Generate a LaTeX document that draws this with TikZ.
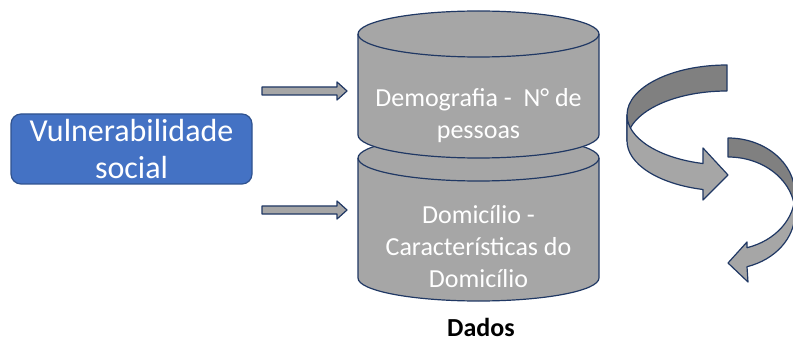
\documentclass[tikz,border=0pt]{standalone}
\usepackage{fontspec}
\setmainfont{Carlito}
\definecolor{boxblue}{HTML}{4472C4}
\definecolor{boxedge}{HTML}{2F528F}
\definecolor{navy}{HTML}{203864}
\definecolor{canfill}{HTML}{A6A6A6}
\definecolor{ribbondark}{HTML}{808080}
\definecolor{ribbonlight}{HTML}{A6A6A6}
\begin{document}
\begin{tikzpicture}[x=1pt,y=-1pt,
    outline/.style={draw=navy,line width=1.2pt,line join=round},
    cantext/.style={text=white,align=center,font=\fontsize{26}{32}\selectfont}]
      \useasboundingbox (0,0) rectangle (793,342);

      \node[draw=boxedge,fill=boxblue,line width=1.2pt,rounded corners=10pt,
            minimum width=241pt,minimum height=70pt,text=white,align=center,
            font=\fontsize{32}{37}\selectfont] (vuln) at (131.5,149) {Vulnerabilidade\\social};

      \filldraw[outline,fill=ribbonlight] (262,87) -- (337,87) -- (337,82) -- (347,91)
                                          -- (337,100) -- (337,95) -- (262,95) -- cycle;
      \filldraw[outline,fill=ribbonlight] (262,206) -- (337,206) -- (337,201) -- (347,210)
                                          -- (337,219) -- (337,214) -- (262,214) -- cycle;

      % lower can first, the upper one sits on it
      \filldraw[outline,fill=canfill] (358,158) -- (358,278)
            arc[start angle=180,end angle=0,x radius=120.5,y radius=23] -- (599,158)
            arc[start angle=0,end angle=-180,x radius=120.5,y radius=23] -- cycle;
      \draw[outline] (358,158) arc[start angle=180,end angle=0,x radius=120.5,y radius=23];
      \filldraw[outline,fill=canfill] (358,34) -- (358,135)
            arc[start angle=180,end angle=0,x radius=120.5,y radius=23] -- (599,34)
            arc[start angle=0,end angle=-180,x radius=120.5,y radius=23] -- cycle;
      \draw[outline] (358,34) arc[start angle=180,end angle=0,x radius=120.5,y radius=23];

      \node[cantext] (demog) at (478.5,116) {Demografia -\ \ N° de\\pessoas};
      \node[cantext] (domic) at (478.5,247) {Domicílio -\\Características do\\Domicílio};
      \node[font=\fontsize{26}{32}\selectfont\bfseries,inner sep=1pt] (dados) at (481,327) {Dados};

      % upper ribbon arrow: back face, then front face with head
      \filldraw[outline,fill=ribbondark] (727,65)
            arc[start angle=270,end angle=180,x radius=100,y radius=50] -- (627,141)
            arc[start angle=180,end angle=270,x radius=100,y radius=50] -- cycle;
      \filldraw[outline,fill=ribbonlight] (627,115)
            arc[start angle=180,end angle=103.9,x radius=100,y radius=50]
            -- (703,148) -- (728,175) -- (703,200) -- (703,189.5)
            arc[start angle=103.9,end angle=180,x radius=100,y radius=50] -- cycle;

      % lower ribbon arrow, runs off the right edge
      \filldraw[outline,fill=ribbondark] (728,138)
            arc[start angle=270,end angle=360,x radius=67,y radius=56] -- (795,213)
            arc[start angle=0,end angle=-90,x radius=67,y radius=56] -- cycle;
      \filldraw[outline,fill=ribbonlight] (795,194)
            arc[start angle=0,end angle=73.5,x radius=67,y radius=56]
            -- (747,242) -- (728,263) -- (748,282) -- (747,266.7)
            arc[start angle=73.5,end angle=0,x radius=67,y radius=56] -- cycle;

    \end{tikzpicture}
\end{document}
